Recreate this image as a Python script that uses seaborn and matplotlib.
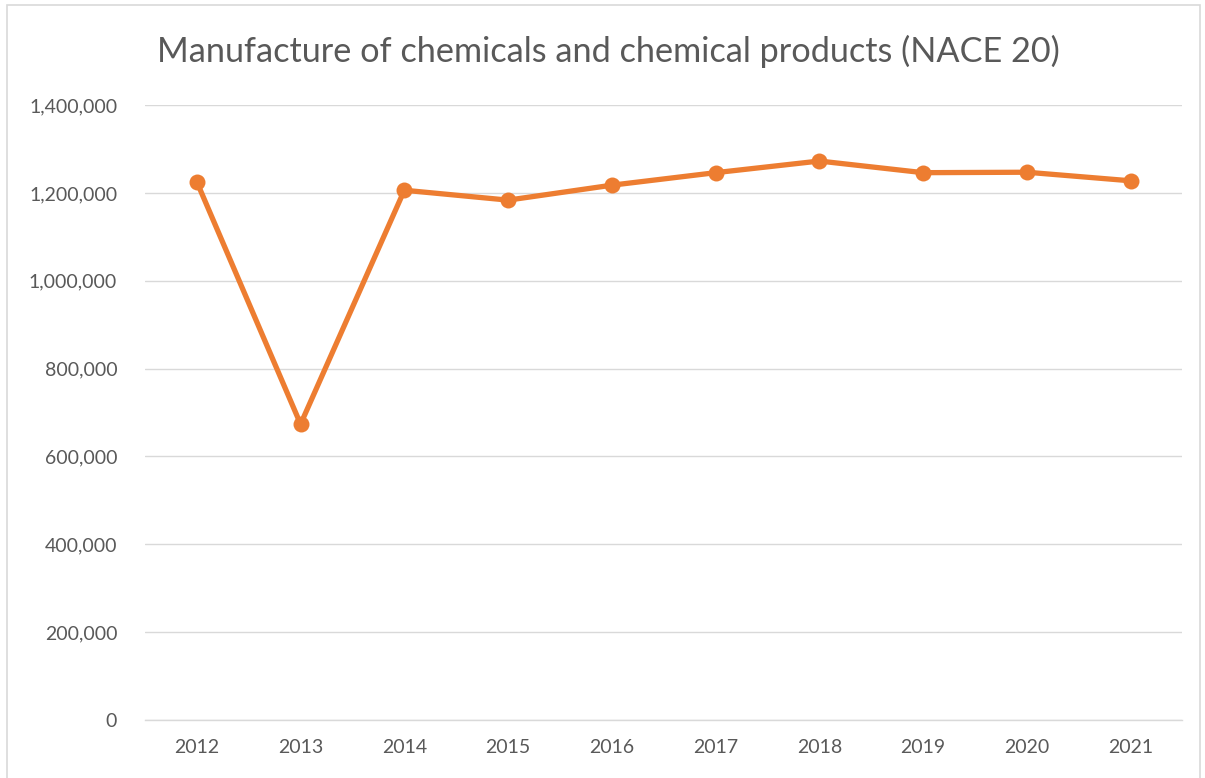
import matplotlib
matplotlib.use("Agg")
import matplotlib.pyplot as plt
from matplotlib.patches import Rectangle
from matplotlib.ticker import FuncFormatter, MultipleLocator
import pandas as pd
import seaborn as sns

years = ["2012", "2013", "2014", "2015", "2016", "2017", "2018", "2019", "2020", "2021"]
values = [1225000, 673500, 1206000, 1183500, 1217500, 1246000, 1272500, 1246000, 1247000, 1227500]
title = "Manufacture of chemicals and chemical products (NACE 20)"

sns.set_theme(style="white")
plt.rcParams["font.family"] = ["Lato", "DejaVu Sans"]

df = pd.DataFrame({"year": years, "value": values})

fig = plt.figure(figsize=(12.05, 7.78), dpi=100)
ax = fig.add_axes([0.1203, 0.0746, 0.8610, 0.7904])

orange = "#ED7D31"
sns.lineplot(data=df, x="year", y="value", ax=ax, color=orange, linewidth=3.8,
             marker="o", markersize=11.5, markeredgewidth=0, sort=False)

ax.set_xlim(-0.5, len(years) - 0.5)
ax.set_ylim(0, 1400000)
ax.yaxis.set_major_locator(MultipleLocator(200000))
ax.yaxis.set_major_formatter(FuncFormatter(lambda v, _: f"{int(v):,}"))
ax.grid(axis="y", color="#D9D9D9", linewidth=1.0)
ax.grid(axis="x", visible=False)
ax.set_axisbelow(True)
for side in ("top", "right", "left"):
    ax.spines[side].set_visible(False)
ax.spines["bottom"].set_color("#D9D9D9")
ax.spines["bottom"].set_linewidth(1.0)
ax.tick_params(axis="both", length=0, labelsize=14, colors="#595959")
ax.tick_params(axis="y", pad=20)
ax.tick_params(axis="x", pad=14)
ax.set_xlabel("")
ax.set_ylabel("")

fig.text(0.505, 0.934, title, ha="center", va="center", fontsize=24.7, color="#595959")

# outer chart frame
fig.patches.append(Rectangle((7 / 1205, -0.01), (1200 - 7) / 1205, 1 - 5 / 778 + 0.01,
                             transform=fig.transFigure, fill=False,
                             edgecolor="#D9D9D9", linewidth=1.2))

fig.savefig("out.png", dpi=100)
